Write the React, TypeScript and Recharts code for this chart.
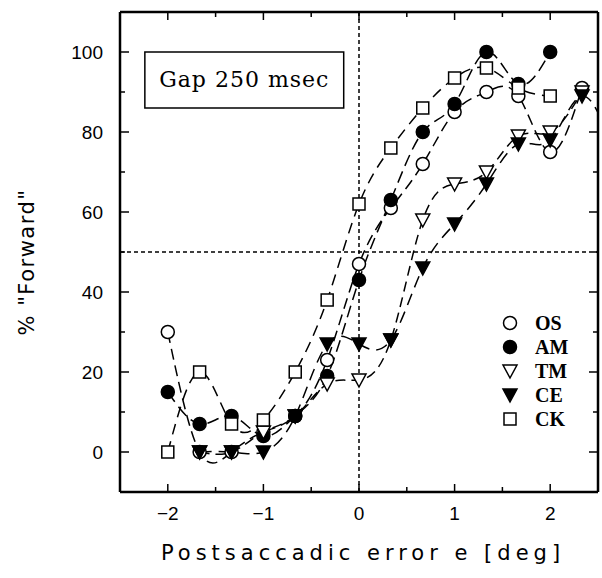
import React from 'react';
import {
  LineChart, Line, XAxis, YAxis, ReferenceLine, ReferenceArea, Label,
} from 'recharts';

// Postsaccadic error (deg)
const errorDeg = [-2, -1.667, -1.333, -1, -0.667, -0.333, 0, 0.333, 0.667, 1, 1.333, 1.667, 2, 2.333, 2.667];
// % "Forward" per subject
const osValues = [30, 0, 0, 5, 9, 23, 47, 61, 72, 85, 90, 89, 75, 91, null];
const amValues = [15, 7, 9, 4, 9, 19, 43, 63, 80, 87, 100, 92, 100, null, null];
const tmValues = [null, 0, 0, 5, 9, 17, 18, 28, 58, 67, 70, 79, 80, 90, null];
const ceValues = [null, 0, 0, 0, 9, 27, 27, 28, 46, 57, 67, 77, 78, 89, 75];
const ckValues = [0, 20, 7, 8, 20, 38, 62, 76, 86, 93.5, 96, 91, 89, null, null];

const xDomain = [-2.5, 2.5];
const yDomain = [-10, 110];
const xTicks = [-2, -1.5, -1, -0.5, 0, 0.5, 1, 1.5, 2];
const xLabelTicks = [-2, -1, 0, 1, 2];
const yTicks = [0, 10, 20, 30, 40, 50, 60, 70, 80, 90, 100];
const yLabelTicks = [0, 20, 40, 60, 80, 100];

type Shape = 'circle' | 'square' | 'triangle';
const series = [
  { key: 'OS', values: osValues, shape: 'circle' as Shape, filled: false, dash: '11 6' },
  { key: 'AM', values: amValues, shape: 'circle' as Shape, filled: true, dash: '12 6' },
  { key: 'TM', values: tmValues, shape: 'triangle' as Shape, filled: false, dash: '10 6' },
  { key: 'CE', values: ceValues, shape: 'triangle' as Shape, filled: true, dash: '12 7' },
  { key: 'CK', values: ckValues, shape: 'square' as Shape, filled: false, dash: '11 7' },
];

const data = errorDeg.map((x, i) => {
  const row: any = { x };
  series.forEach((s) => { row[s.key] = s.values[i]; });
  return row;
});

const CHART_W = 602;
const CHART_H = 578;
const MARGIN = { top: 12, right: 4, bottom: 0, left: 0 };
const Y_AXIS_W = 120;
const X_AXIS_H = 86;
const PLOT_TOP = MARGIN.top;
const PLOT_RIGHT = CHART_W - MARGIN.right;

const FONT_TICK = '"Liberation Sans", Arial, sans-serif';
const FONT_TITLE = '"DejaVu Sans", sans-serif';
const FONT_SERIF = '"DejaVu Serif", "Liberation Serif", serif';
const FONT_LEGEND = '"Liberation Serif", serif';

function Marker({ cx, cy, shape, filled }: { cx: number; cy: number; shape: Shape; filled: boolean }) {
  const fill = filled ? '#000' : '#fff';
  const sw = 1.5;
  if (shape === 'circle') return <circle cx={cx} cy={cy} r={6.5} fill={fill} stroke="#000" strokeWidth={sw} />;
  if (shape === 'square') return <rect x={cx - 6} y={cy - 6} width={12} height={12} fill={fill} stroke="#000" strokeWidth={sw} />;
  return <path d={`M${cx - 7},${cy - 6} L${cx + 7},${cy - 6} L${cx},${cy + 7} Z`} fill={fill} stroke="#000" strokeWidth={sw} strokeLinejoin="miter" />;
}

const makeDot = (shape: Shape, filled: boolean, name: string) => (props: any) => {
  const { cx, cy, index, value } = props;
  if (cx == null || cy == null || value == null) return <g key={`${name}-${index}`} />;
  return <g key={`${name}-${index}`}><Marker cx={cx} cy={cy} shape={shape} filled={filled} /></g>;
};

// bottom axis tick: inward tick + mirrored tick on the top frame + label
const XTick = (props: any) => {
  const { x, y, payload } = props;
  const v = payload.value;
  const len = Number.isInteger(v) ? 8 : 5;
  return (
    <g>
      <line x1={x} y1={y} x2={x} y2={y - len} stroke="#000" strokeWidth={1.5} />
      <line x1={x} y1={PLOT_TOP} x2={x} y2={PLOT_TOP + len} stroke="#000" strokeWidth={1.5} />
      {xLabelTicks.includes(v) && (
        <text x={x} y={y + 28} textAnchor="middle" fontFamily={FONT_TICK} fontSize={19} fill="#000">
          {v < 0 ? `\u2212${Math.abs(v)}` : String(v)}
        </text>
      )}
    </g>
  );
};

// left axis tick: inward tick + mirrored tick on the right frame + label
const YTick = (props: any) => {
  const { x, y, payload } = props;
  const v = payload.value;
  const len = v % 20 === 0 ? 9 : 5;
  return (
    <g>
      <line x1={x} y1={y} x2={x + len} y2={y} stroke="#000" strokeWidth={1.5} />
      <line x1={PLOT_RIGHT} y1={y} x2={PLOT_RIGHT - len} y2={y} stroke="#000" strokeWidth={1.5} />
      {yLabelTicks.includes(v) && (
        <text x={x - 17} y={y + 7} textAnchor="end" fontFamily={FONT_TICK} fontSize={19} fill="#000">
          {String(v)}
        </text>
      )}
    </g>
  );
};

const LegendOverlay = () => (
  <svg width={100} height={125} style={{ position: 'absolute', left: 500, top: 311 }}>
    {series.map((s, i) => (
      <g key={s.key}>
        <Marker cx={10} cy={12 + i * 24} shape={s.shape} filled={s.filled} />
        <text x={35} y={19 + i * 24} fontFamily={FONT_LEGEND} fontSize={20} fontWeight="bold" fill="#000">{s.key}</text>
      </g>
    ))}
  </svg>
);

export default function App() {
  const axisLine = { stroke: '#000', strokeWidth: 2.5 };
  return (
    <div style={{ position: 'fixed', left: 0, top: 0, width: CHART_W, height: CHART_H, background: '#fff', overflow: 'hidden' }}>
      <LineChart width={CHART_W} height={CHART_H} data={data} margin={MARGIN}>
        <XAxis dataKey="x" type="number" domain={xDomain} allowDataOverflow ticks={xTicks}
          interval={0} height={X_AXIS_H} tickSize={0} tickMargin={0} tickLine={false} axisLine={axisLine} tick={<XTick />}>
          <Label content={(p: any) => {
            const vb = p.viewBox;
            return (
              <text x={vb.x + vb.width / 2 + 4} y={vb.y + 68} textAnchor="middle" fontFamily={FONT_TITLE}
                fontSize={21} letterSpacing={5} fill="#000">Postsaccadic error e [deg]</text>
            );
          }} />
        </XAxis>
        <YAxis type="number" domain={yDomain} allowDataOverflow ticks={yTicks} interval={0} width={Y_AXIS_W}
          tickSize={0} tickMargin={0} tickLine={false} axisLine={axisLine} tick={<YTick />}>
          <Label content={() => (
            <text x={34} y={262} transform="rotate(-90 34 262)" textAnchor="middle" fontFamily={FONT_TITLE}
              fontSize={21} letterSpacing={1.5} fill="#000">% "Forward"</text>
          )} />
        </YAxis>

        <ReferenceLine x={0} stroke="#000" strokeWidth={1.5} strokeDasharray="4 3" />
        <ReferenceLine y={50} stroke="#000" strokeWidth={1.5} strokeDasharray="4 3" />
        <ReferenceArea x1={-2.24} x2={-0.16} y1={86} y2={100} fill="#fff" fillOpacity={1}
          stroke="#000" strokeWidth={1.5}
          label={(p: any) => {
            const vb = p.viewBox;
            return (
              <text x={vb.x + vb.width / 2} y={vb.y + vb.height / 2 + 7} textAnchor="middle" fontFamily={FONT_SERIF}
                fontSize={22} letterSpacing={1} fill="#000">Gap 250 msec</text>
            );
          }} />

        {series.map((s) => (
          <Line key={s.key} dataKey={s.key} type="natural" stroke="#000" strokeWidth={1.5}
            strokeDasharray={s.dash} isAnimationActive={false} dot={makeDot(s.shape, s.filled, s.key)}
            activeDot={false} legendType="none" />
        ))}

        {/* top and right edges of the frame */}
        <ReferenceLine y={yDomain[1]} stroke="#000" strokeWidth={2.5} ifOverflow="visible" />
        <ReferenceLine x={xDomain[1]} stroke="#000" strokeWidth={2.5} ifOverflow="visible" />
      </LineChart>
      <LegendOverlay />
    </div>
  );
}
